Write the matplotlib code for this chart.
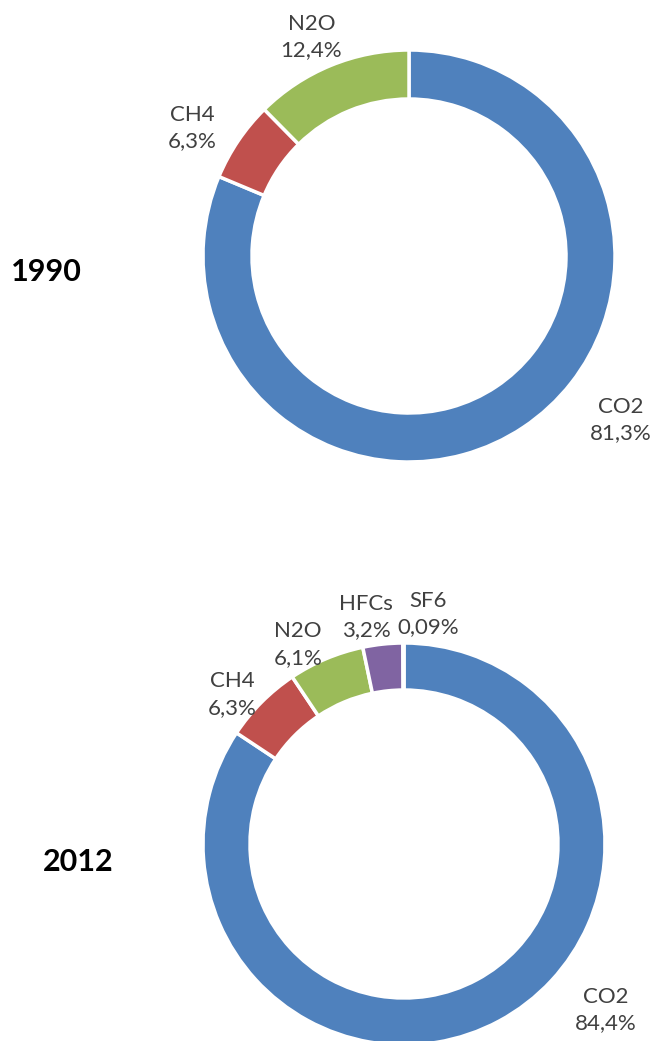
import matplotlib
matplotlib.use('Agg')
import matplotlib.pyplot as plt
import numpy as np

# ---------- data ---------- #
gases_1990 = ['CO2', 'CH4', 'N2O']
shares_1990 = [81.3, 6.3, 12.4]
text_1990 = ['81,3%', '6,3%', '12,4%']

gases_2012 = ['CO2', 'CH4', 'N2O', 'HFCs', 'SF6']
shares_2012 = [84.4, 6.3, 6.1, 3.2, 0.09]
text_2012 = ['84,4%', '6,3%', '6,1%', '3,2%', '0,09%']

colors = {'CO2': '#4F81BD', 'CH4': '#C0504D', 'N2O': '#9BBB59',
          'HFCs': '#8064A2', 'SF6': '#4BACC6'}

plt.rcParams['font.family'] = ['Lato', 'DejaVu Sans']

W, H = 654, 1041
fig = plt.figure(figsize=(W / 100, H / 100), dpi=100)
ax = fig.add_axes([0, 0, 1, 1])


def donut(ax, names, vals, labels, center, radius, width, year, year_xy,
          label_pos):
    ax.pie(vals, radius=radius, center=center, startangle=90,
           counterclock=False, colors=[colors[n] for n in names],
           wedgeprops=dict(width=width, edgecolor='white', linewidth=2.5))
    # label placement: (angle in degrees, distance from centre in px)
    for name, lab, (ang, dist) in zip(names, labels, label_pos):
        a = np.deg2rad(ang)
        x = center[0] + dist * np.cos(a)
        y = center[1] + dist * np.sin(a)
        ax.text(x, y, name + '\n' + lab, ha='center', va='center',
                fontsize=16, color='#404040', linespacing=1.4)
    ax.text(year_xy[0], year_xy[1], year, ha='center', va='center',
            fontsize=22, fontweight='bold', color='black')


donut(ax, gases_1990, shares_1990, text_1990, center=(409, H - 256),
      radius=206, width=49, year='1990', year_xy=(46, H - 272),
      label_pos=[(-37.7, 268), (149.5, 252), (114, 240)])

donut(ax, gases_2012, shares_2012, text_2012, center=(404, H - 844),
      radius=201, width=47, year='2012', year_xy=(78, H - 862),
      label_pos=[(-39.5, 261), (139, 228), (118, 226), (99.5, 230), (84, 231)])

ax.set_xlim(0, W)
ax.set_ylim(0, H)
ax.set_aspect('equal')
ax.axis('off')

fig.savefig('out.png', dpi=100, facecolor='white')
